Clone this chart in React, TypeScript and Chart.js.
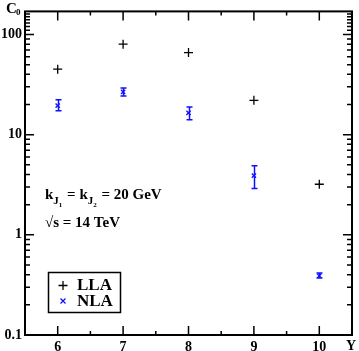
import { useEffect, useRef } from 'react';
import { Chart, registerables } from 'chart.js';

Chart.register(...registerables);

const rapidities = [6, 7, 8, 9, 10];
const llaValues = [45, 80, 66, 22, 3.2];
const nlaValues = [19.5, 26.7, 16.5, 3.9, 0.39];
const nlaErrLow = [17.3, 24.3, 14.1, 2.9, 0.37];
const nlaErrHigh = [22.3, 29.2, 18.9, 4.9, 0.415];

const xMajorTicks = [6, 7, 8, 9, 10];
const xMinorTicks = [6.5, 7.5, 8.5, 9.5];
const yMajorTicks = [0.1, 1, 10, 100];
const yTickLabels = ['0.1', '1', '10', '100'];
const yMinorTicks = [
  0.2, 0.3, 0.4, 0.5, 0.6, 0.7, 0.8, 0.9,
  2, 3, 4, 5, 6, 7, 8, 9,
  20, 30, 40, 50, 60, 70, 80, 90,
  110, 120, 130, 140, 150, 160,
];

const X_MIN = 5.5;
const X_MAX = 10.5;
const Y_MIN = 0.1;
const Y_MAX = 170;

const SERIF = '"Liberation Serif", "Times New Roman", serif';
const BLUE = '#1010ff';

const customPlugin = {
  id: 'customDraw',
  afterDatasetsDraw(chart: any) {
    const ctx = chart.ctx as CanvasRenderingContext2D;
    const xs = chart.scales.x;
    const ys = chart.scales.y;
    ctx.save();
    ctx.strokeStyle = BLUE;
    ctx.lineWidth = 1.5;
    for (let i = 0; i < rapidities.length; i++) {
      const px = Math.round(xs.getPixelForValue(rapidities[i])) + 0.5;
      const lo = ys.getPixelForValue(nlaErrLow[i]);
      const hi = ys.getPixelForValue(nlaErrHigh[i]);
      ctx.beginPath();
      ctx.moveTo(px, lo);
      ctx.lineTo(px, hi);
      ctx.moveTo(px - 3, lo);
      ctx.lineTo(px + 3, lo);
      ctx.moveTo(px - 3, hi);
      ctx.lineTo(px + 3, hi);
      ctx.stroke();
    }
    ctx.restore();
  },
  afterDraw(chart: any) {
    const ctx = chart.ctx as CanvasRenderingContext2D;
    const { left, right, top, bottom } = chart.chartArea;
    const xs = chart.scales.x;
    const ys = chart.scales.y;
    ctx.save();
    ctx.strokeStyle = '#000';
    ctx.lineWidth = 2;
    ctx.strokeRect(left, top, right - left, bottom - top);
    ctx.lineWidth = 1.5;
    ctx.beginPath();
    const xTick = (v: number, len: number) => {
      const px = xs.getPixelForValue(v);
      ctx.moveTo(px, bottom);
      ctx.lineTo(px, bottom - len);
      ctx.moveTo(px, top);
      ctx.lineTo(px, top + len);
    };
    const yTick = (v: number, len: number) => {
      const py = ys.getPixelForValue(v);
      ctx.moveTo(left, py);
      ctx.lineTo(left + len, py);
      ctx.moveTo(right, py);
      ctx.lineTo(right - len, py);
    };
    xMajorTicks.forEach((v) => xTick(v, 9));
    xMinorTicks.forEach((v) => xTick(v, 4));
    yMajorTicks.forEach((v) => yTick(v, 9));
    yMinorTicks.forEach((v) => yTick(v, 5));
    ctx.stroke();

    ctx.fillStyle = '#000';
    ctx.textBaseline = 'alphabetic';
    ctx.textAlign = 'left';
    ctx.font = `bold 15px ${SERIF}`;
    ctx.fillText('C', 6, 13);
    ctx.font = `bold 9px ${SERIF}`;
    ctx.fillText('0', 16, 15);
    ctx.font = `bold 14px ${SERIF}`;
    ctx.textAlign = 'center';
    ctx.fillText('Y', 351, 350);

    ctx.textAlign = 'left';
    let x = 45;
    const base = 199;
    const main = `bold 15px ${SERIF}`;
    const sub = `bold 11px ${SERIF}`;
    const subsub = `bold 7px ${SERIF}`;
    const put = (t: string, font: string, y: number) => {
      ctx.font = font;
      ctx.fillText(t, x, y);
      x += ctx.measureText(t).width;
    };
    put('k', main, base);
    put('J', sub, base + 5);
    put('1', subsub, base + 8);
    x += 1;
    put(' = k', main, base);
    put('J', sub, base + 5);
    put('2', subsub, base + 8);
    x += 1;
    put(' = 20 GeV', main, base);

    ctx.font = main;
    ctx.fillText('\u221As = 14 TeV', 45, 227);

    ctx.lineWidth = 1.5;
    ctx.strokeRect(48.5, 272.5, 72, 40);
    ctx.lineWidth = 1.3;
    ctx.beginPath();
    ctx.moveTo(58.5, 285.5);
    ctx.lineTo(67.5, 285.5);
    ctx.moveTo(63, 281);
    ctx.lineTo(63, 290);
    ctx.stroke();
    ctx.strokeStyle = BLUE;
    ctx.beginPath();
    ctx.moveTo(60.5, 298.5);
    ctx.lineTo(65.5, 303.5);
    ctx.moveTo(65.5, 298.5);
    ctx.lineTo(60.5, 303.5);
    ctx.stroke();
    ctx.font = `bold 17px ${SERIF}`;
    ctx.fillStyle = '#000';
    ctx.textBaseline = 'middle';
    ctx.fillText('LLA', 77, 286);
    ctx.fillText('NLA', 77, 302);
    ctx.restore();
  },
};

export default function App() {
  const canvasRef = useRef<HTMLCanvasElement | null>(null);

  useEffect(() => {
    if (!canvasRef.current) return;
    const chart = new Chart(canvasRef.current, {
      type: 'scatter',
      data: {
        datasets: [
          {
            label: 'LLA',
            data: rapidities.map((r, i) => ({ x: r, y: llaValues[i] })),
            pointStyle: 'cross',
            pointRadius: 4.5,
            borderColor: '#000',
            backgroundColor: '#000',
            borderWidth: 1.3,
          },
          {
            label: 'NLA',
            data: rapidities.map((r, i) => ({ x: r, y: nlaValues[i] })),
            pointStyle: 'crossRot',
            pointRadius: 3,
            borderColor: BLUE,
            backgroundColor: BLUE,
            borderWidth: 1.3,
          },
        ],
      },
      options: {
        animation: false,
        responsive: false,
        maintainAspectRatio: false,
        layout: { padding: { left: 0, top: 8, right: 7, bottom: 0 } },
        plugins: {
          legend: { display: false },
          tooltip: { enabled: false },
        },
        scales: {
          x: {
            type: 'linear',
            min: X_MIN,
            max: X_MAX,
            afterBuildTicks: (s: any) => {
              s.ticks = xMajorTicks.map((v) => ({ value: v }));
            },
            afterFit: (s: any) => {
              s.height = 16;
            },
            grid: { display: false, drawTicks: false },
            border: { display: false },
            ticks: {
              autoSkip: false,
              maxRotation: 0,
              padding: 4,
              color: '#000',
              font: { family: SERIF, size: 14, weight: 'bold' },
              callback: (v: any) => String(v),
            },
          },
          y: {
            type: 'logarithmic',
            min: Y_MIN,
            max: Y_MAX,
            afterBuildTicks: (s: any) => {
              s.ticks = yMajorTicks.map((v) => ({ value: v }));
            },
            afterFit: (s: any) => {
              s.width = 25;
            },
            grid: { display: false, drawTicks: false },
            border: { display: false },
            ticks: {
              autoSkip: false,
              padding: 3,
              color: '#000',
              font: { family: SERIF, size: 14, weight: 'bold' },
              callback: (v: any) => {
                const idx = yMajorTicks.findIndex((t) => Math.abs(t - Number(v)) < 1e-9);
                return idx >= 0 ? yTickLabels[idx] : '';
              },
            },
          },
        },
      } as any,
      plugins: [customPlugin],
    });
    return () => chart.destroy();
  }, []);

  return (
    <div style={{ position: 'fixed', left: 0, top: 0, width: 359, height: 351, background: '#fff' }}>
      <canvas ref={canvasRef} width={359} height={351} style={{ display: 'block' }} />
    </div>
  );
}
